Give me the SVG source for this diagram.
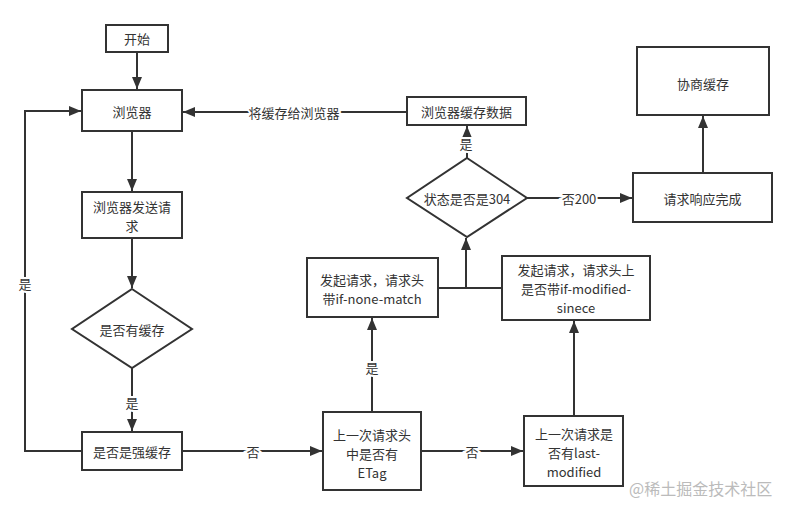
<svg xmlns="http://www.w3.org/2000/svg" width="797" height="514" viewBox="0 0 797 514">
<defs>
<marker id="ah" viewBox="0 0 12 11" refX="12" refY="5.5" markerWidth="12" markerHeight="11" markerUnits="userSpaceOnUse" orient="auto">
<path d="M0,0.5 L12,5.5 L0,10.5 Z" fill="#333"/>
</marker>
<style>
.n{fill:#fff;stroke:#333;stroke-width:2}
.t{font-family:"Microsoft YaHei","Noto Sans CJK SC","Noto Sans",sans-serif;font-size:13px;fill:#333;text-anchor:middle;dominant-baseline:central}
.e{fill:none;stroke:#333;stroke-width:2}
.a{marker-end:url(#ah)}
.l{paint-order:stroke;stroke:#fff;stroke-width:4px}
.w{font-family:"Microsoft YaHei","Noto Sans CJK SC",sans-serif;font-size:16px;fill:#bbb}
</style>
</defs>
<rect width="797" height="514" fill="#fff"/>
<g id="edges">
<path class="e a" d="M137,52 V89"/>
<path class="e a" d="M132,132 V191"/>
<path class="e a" d="M132,238 V288"/>
<path class="e a" d="M132,368 V431"/>
<path class="e a" d="M82,451 H25 V111 H81"/>
<path class="e a" d="M182,451 H322"/>
<path class="e a" d="M372,412 V318"/>
<path class="e a" d="M421,451 H523"/>
<path class="e a" d="M574,416 V321"/>
<path class="e" d="M438,288 H502"/>
<path class="e a" d="M466,288 V238"/>
<path class="e a" d="M467,158 V126"/>
<path class="e a" d="M407,112 H183"/>
<path class="e a" d="M527,198 H632"/>
<path class="e a" d="M703,173 V116"/>
<text class="t l" x="25" y="283">是</text>
<text class="t l" x="132" y="402">是</text>
<text class="t l" x="253" y="451">否</text>
<text class="t l" x="372" y="367">是</text>
<text class="t l" x="472" y="451">否</text>
<text class="t l" x="466" y="143">是</text>
<text class="t l" x="294" y="112">将缓存给浏览器</text>
<text class="t l" x="579" y="198">否200</text>
</g>
<g id="start"><rect class="n" x="106" y="25" width="62" height="27"/><text class="t" x="137" y="38.5">开始</text></g>
<g id="browser"><rect class="n" x="82" y="90" width="100" height="41"/><text class="t" x="132" y="111">浏览器</text></g>
<g id="send"><rect class="n" x="82" y="192" width="100" height="46"/><text class="t" x="132" y="206">浏览器发送请<tspan x="132" dy="19">求</tspan></text></g>
<g id="hasCache"><path class="n" d="M132,289 L192,329 L132,368 L72,329 Z"/><text class="t" x="132" y="329">是否有缓存</text></g>
<g id="strong"><rect class="n" x="82" y="432" width="100" height="38"/><text class="t" x="132" y="451">是否是强缓存</text></g>
<g id="etag"><rect class="n" x="323" y="412" width="98" height="78"/><text class="t" x="372" y="434">上一次请求头<tspan x="372" dy="19">中是否有</tspan><tspan x="372" dy="19">ETag</tspan></text></g>
<g id="lastmod"><rect class="n" x="524" y="416" width="99" height="70"/><text class="t" x="574" y="433">上一次请求是<tspan x="574" dy="19">否有last-</tspan><tspan x="574" dy="19">modified</tspan></text></g>
<g id="noneMatch"><rect class="n" x="307" y="258" width="131" height="59"/><text class="t" x="372" y="279">发起请求，请求头<tspan x="372" dy="19">带if-none-match</tspan></text></g>
<g id="modSince"><rect class="n" x="502" y="256" width="148" height="64"/><text class="t" x="576" y="269">发起请求，请求头上<tspan x="576" dy="19">是否带if-modified-</tspan><tspan x="576" dy="19">sinece</tspan></text></g>
<g id="is304"><path class="n" d="M467,158 L527,198 L467,237 L407,198 Z"/><text class="t" x="467" y="198">状态是否是304</text></g>
<g id="cacheData"><rect class="n" x="407" y="97" width="119" height="28"/><text class="t" x="466.5" y="111">浏览器缓存数据</text></g>
<g id="done"><rect class="n" x="633" y="173" width="139" height="49"/><text class="t" x="702.5" y="198">请求响应完成</text></g>
<g id="negotiate"><rect class="n" x="637" y="47" width="132" height="68"/><text class="t" x="703" y="83">协商缓存</text></g>
<text class="w" x="629" y="495">@稀土掘金技术社区</text>
</svg>
